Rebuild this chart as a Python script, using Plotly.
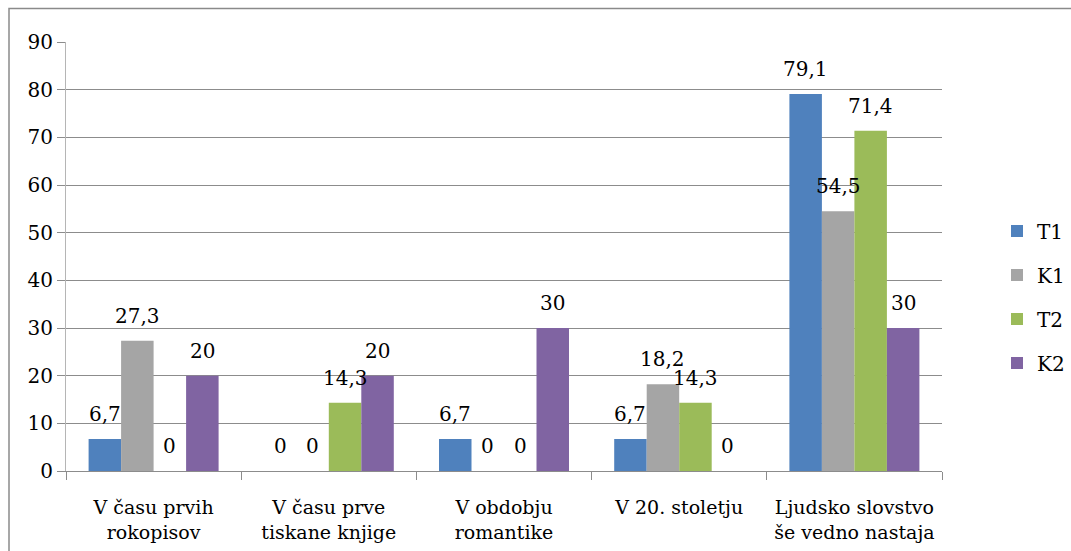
import plotly.graph_objects as go

# Survey answers (percent) per period, four respondent groups
categories = [
    "V času prvih<br>rokopisov",
    "V času prve<br>tiskane knjige",
    "V obdobju<br>romantike",
    "V 20. stoletju",
    "Ljudsko slovstvo<br>še vedno nastaja",
]
series_names = ["T1", "K1", "T2", "K2"]
t1 = [6.7, 0, 6.7, 6.7, 79.1]
k1 = [27.3, 0, 0, 18.2, 54.5]
t2 = [0, 14.3, 0, 14.3, 71.4]
k2 = [20, 20, 30, 0, 30]
colors = ["#4F81BD", "#A5A5A5", "#9BBB59", "#8064A2"]

W, H = 1071, 551
M_L, M_R, M_T, M_B = 66, 129, 42, 80
BARGAP = 0.258
SERIF = "DejaVu Serif"
FS = 20
FS_CAT = 19
GRID = "#8c8c8c"


def fmt(v):
    return f"{v:g}".replace(".", ",")


def text_font(size=FS):
    return dict(family=SERIF, size=size, color="black")


fig = go.Figure()
values = [t1, k1, t2, k2]
for name, vals, col in zip(series_names, values, colors):
    fig.add_trace(go.Bar(
        name=name, x=categories, y=vals, marker_color=col,
        marker_line_width=0, legendgroup=name,
    ))

# value labels centred above each bar
plot_w = W - M_L - M_R
plot_h = H - M_T - M_B
bar_w = plot_w / len(categories) * (1 - BARGAP) / len(series_names)
for i, vals in enumerate(values):
    dx = (i - (len(series_names) - 1) / 2) * bar_w
    for c, v in zip(categories, vals):
        fig.add_annotation(
            x=c, y=v, xref="x", yref="y", text=fmt(v), showarrow=False,
            xshift=dx, yshift=25, yanchor="middle", xanchor="center",
            font=text_font(),
        )

# outer chart frame (runs past the right and bottom edges)
fig.add_shape(
    type="rect", xref="paper", yref="paper",
    x0=(9 - M_L) / plot_w, x1=(1080 - M_L) / plot_w,
    y0=1 - (560 - M_T) / plot_h, y1=1 - (8.5 - M_T) / plot_h,
    line=dict(color="#8a8a8a", width=1.5), fillcolor="rgba(0,0,0,0)", layer="below",
)

fig.update_layout(
    width=W, height=H,
    margin=dict(l=M_L, r=M_R, t=M_T, b=M_B, pad=0, autoexpand=False),
    paper_bgcolor="white", plot_bgcolor="white",
    barmode="group", bargap=BARGAP, bargroupgap=0,
    font=text_font(),
    showlegend=True,
    legend=dict(
        x=(997 - M_L) / plot_w, y=1 - (297 - M_T) / plot_h,
        xanchor="left", yanchor="middle", tracegroupgap=15,
        font=text_font(), bgcolor="rgba(0,0,0,0)",
    ),
    xaxis=dict(
        type="category", tickson="boundaries", ticks="outside", ticklen=8,
        tickcolor=GRID, showline=True, linecolor=GRID, linewidth=1,
        showgrid=False, tickangle=0, ticklabelstandoff=19,
        tickfont=text_font(FS_CAT),
    ),
    yaxis=dict(
        range=[0, 90], dtick=10, tick0=0, ticks="outside", ticklen=8,
        tickcolor=GRID, showgrid=True, gridcolor=GRID, gridwidth=1,
        showline=True, linecolor="#b5b5b5", linewidth=1, zeroline=False,
        tickfont=text_font(),
    ),
)

fig.write_html("out.html")
